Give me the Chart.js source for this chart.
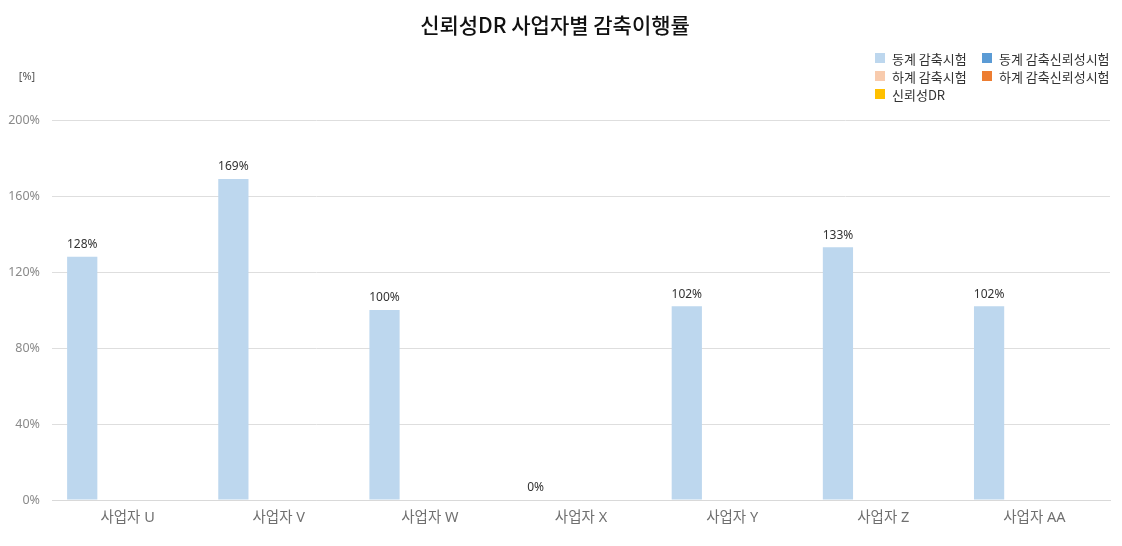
<!DOCTYPE html>
<html><head><meta charset="utf-8">
<script src="https://cdn.jsdelivr.net/npm/chart.js@4"></script>
<style>
html,body{margin:0;padding:0;background:#fff;}
#wrap{position:relative;width:1122px;height:546px;}
#legend{position:absolute;left:875px;top:49px;display:grid;grid-template-columns:107px auto;row-gap:0px;font-family:"Noto Sans CJK KR",sans-serif;font-size:13px;color:#333;}
#legend .it{display:flex;align-items:center;height:18px;white-space:nowrap;}
#legend .sw{width:10px;height:10px;margin-right:7px;}
</style></head>
<body><div id="wrap"><canvas id="c" width="1122" height="546"></canvas><div id="legend"></div></div>
<script>
const categories = ['사업자 U','사업자 V','사업자 W','사업자 X','사업자 Y','사업자 Z','사업자 AA'];
const seriesNames = ['동계 감축시험','동계 감축신뢰성시험','하계 감축시험','하계 감축신뢰성시험','신뢰성DR'];
const winterTest = [128,169,100,0,102,133,102];
const winterReliab = [null,null,null,null,null,null,null];
const summerTest = [null,null,null,null,null,null,null];
const summerReliab = [null,null,null,null,null,null,null];
const reliabDR = [null,null,null,null,null,null,null];
const yTicks = [0,40,80,120,160,200];
const colors = ['#BDD7EE','#5B9BD5','#F8CBAD','#ED7D31','#FFC000'];

const FONT = '"Noto Sans CJK KR", sans-serif';
const LFONT = '"Noto Sans", "Noto Sans CJK KR", sans-serif';

const labelPlugin = {
  id:'vlabels',
  afterDatasetsDraw(chart){
    const ctx = chart.ctx;
    const meta = chart.getDatasetMeta(0);
    ctx.save();
    ctx.font = '12px ' + LFONT;
    ctx.fillStyle = '#333';
    ctx.textAlign = 'center';
    ctx.textBaseline = 'bottom';
    meta.data.forEach((el,i)=>{
      const v = chart.data.datasets[0].data[i];
      if (v===null) return;
      ctx.fillText(v + '%', el.x, el.y - 6);
    });
    ctx.fillStyle = '#555';
    ctx.font = '11px ' + LFONT;
    ctx.textAlign = 'center';
    ctx.textBaseline = 'middle';
    ctx.fillText('[%]', 27, 77);
    ctx.restore();
  }
};

const datasets = [winterTest, winterReliab, summerTest, summerReliab].map((d,i)=>({
  type:'bar', label: seriesNames[i], data: d, backgroundColor: colors[i], borderWidth:0,
  barPercentage:1.0, categoryPercentage:0.8
}));
datasets.push({type:'line', label: seriesNames[4], data: reliabDR, borderColor: colors[4], backgroundColor: colors[4], pointRadius:0});

const chart = new Chart(document.getElementById('c'), {
  type:'bar',
  data:{labels:categories, datasets},
  options:{
    responsive:false, animation:false,
    layout:{padding:{left:0,right:12,top:0,bottom:0}},
    plugins:{
      legend:{display:false},
      tooltip:{enabled:false},
      title:{display:true, text:'신뢰성DR 사업자별 감축이행률', color:'#111',
        font:{family:FONT, size:21, weight:'500', lineHeight:1.2}, padding:{top:12.4,bottom:82.4}}
    },
    scales:{
      x:{
        grid:{display:false, drawTicks:false},
        border:{display:true,color:'#d9d9d9'},
        ticks:{font:{family:LFONT,size:14.5},color:'#707070',padding:9},
        afterFit(s){s.height=46;}
      },
      y:{
        min:0,max:200,
        afterBuildTicks(s){ s.ticks = yTicks.map(v=>({value:v})); },
        grid:{color:'#dedede', drawTicks:false},
        border:{display:false},
        ticks:{font:{family:LFONT,size:12.5},color:'#8a8a8a',padding:12, callback:v=>v+'%'},
        afterFit(s){s.width=52;}
      }
    }
  },
  plugins:[labelPlugin]
});

const lg = document.getElementById('legend');
chart.data.datasets.forEach(ds=>{
  const it = document.createElement('div'); it.className='it';
  const sw = document.createElement('span'); sw.className='sw'; sw.style.background = ds.backgroundColor;
  const tx = document.createElement('span'); tx.textContent = ds.label;
  it.appendChild(sw); it.appendChild(tx); lg.appendChild(it);
});
</script></body></html>
